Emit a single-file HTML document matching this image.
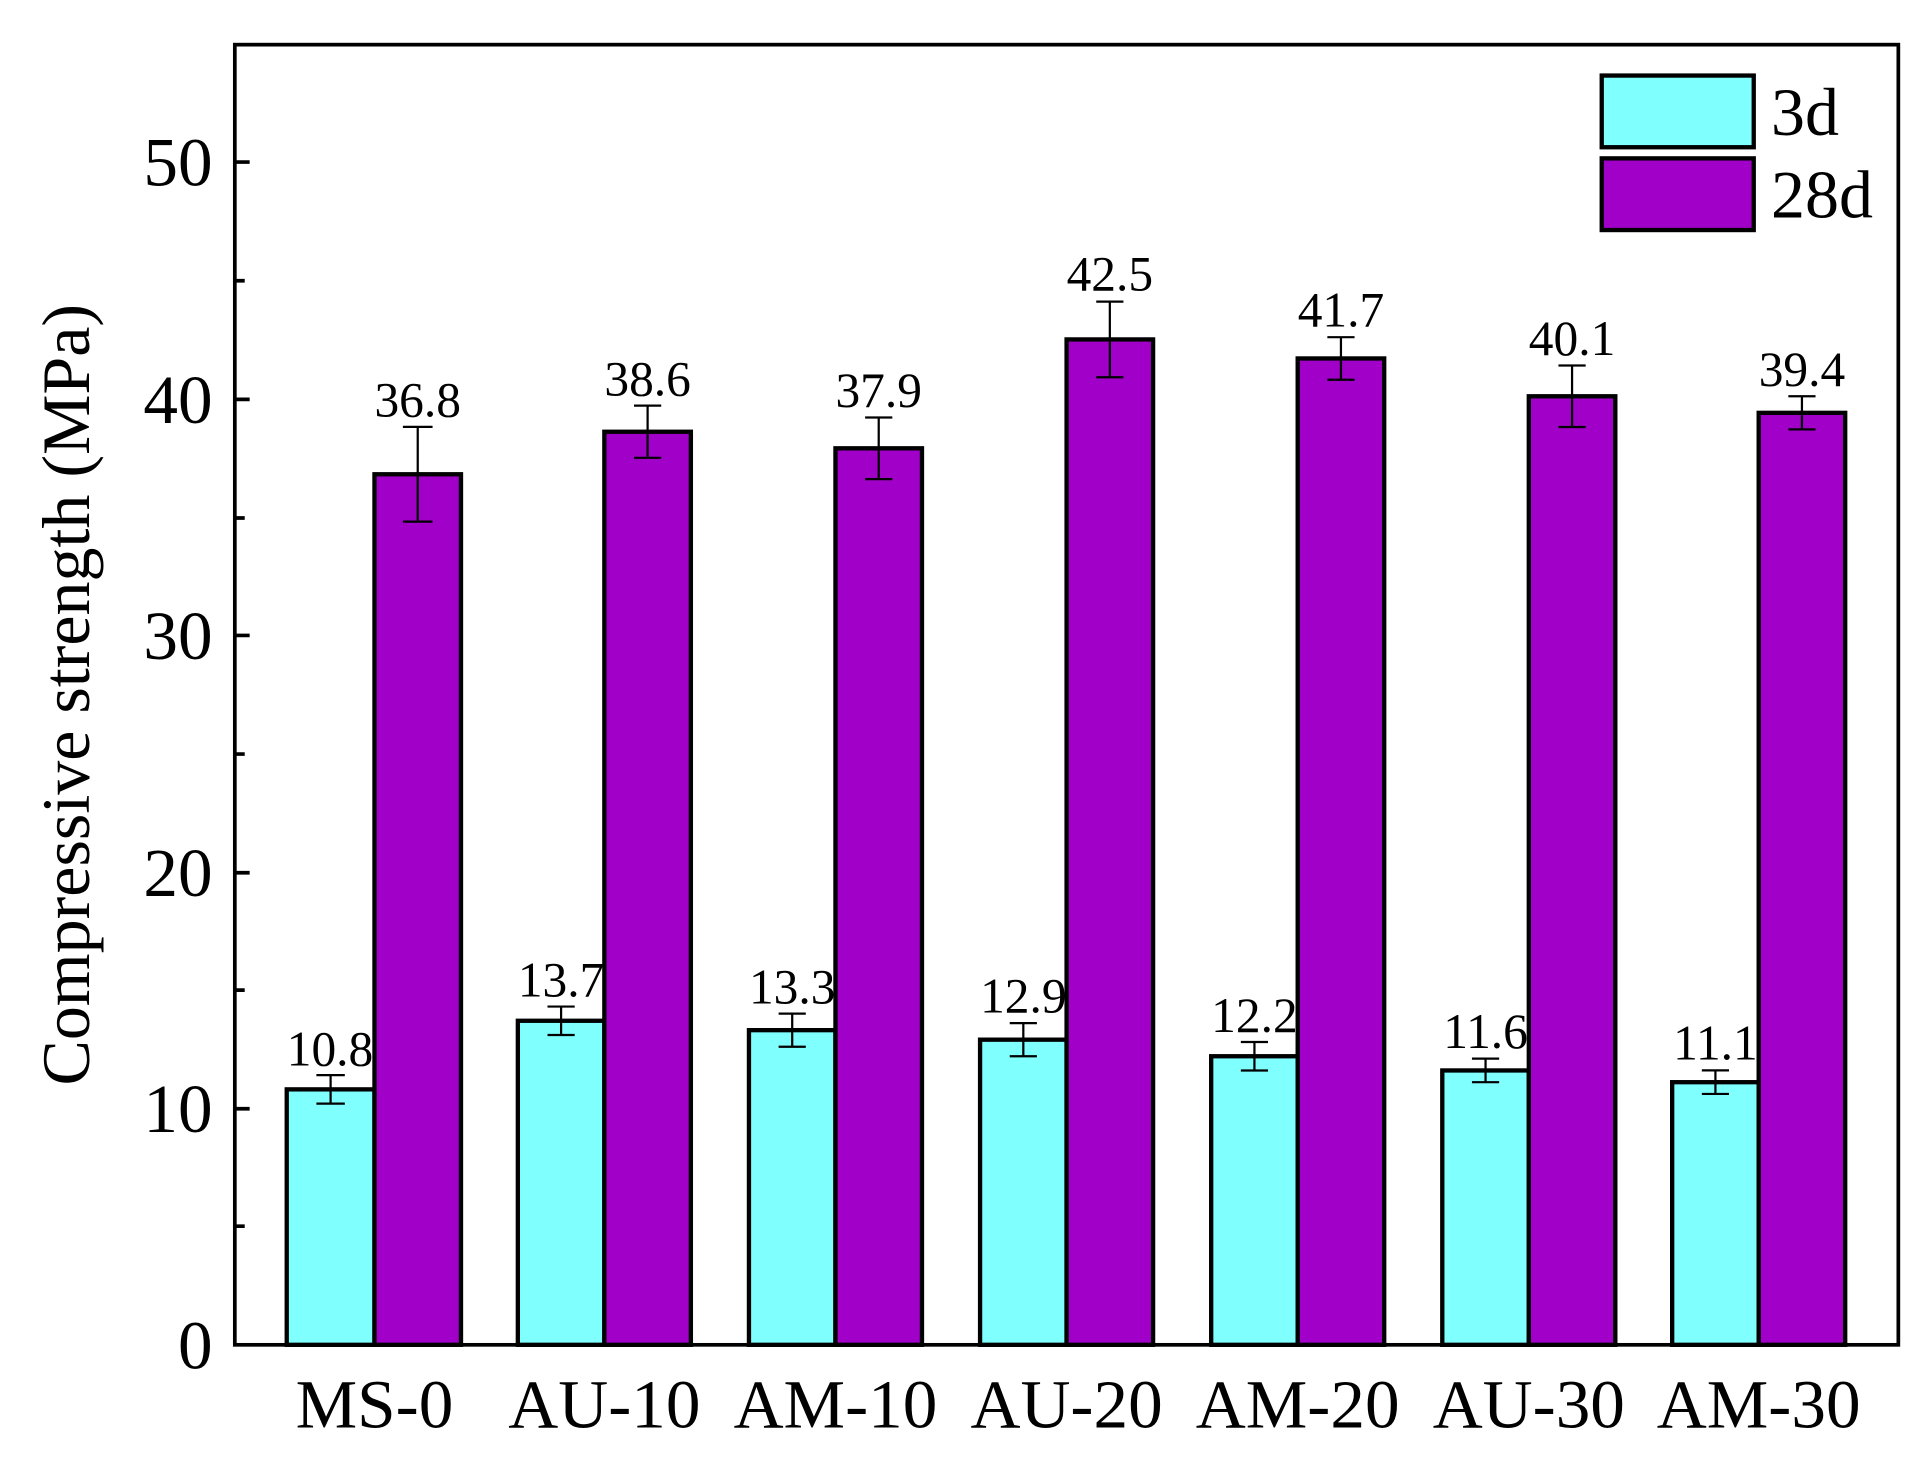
<!DOCTYPE html>
<html><head><meta charset="utf-8"><style>html,body{margin:0;padding:0;background:#fff}svg{display:block}</style></head><body>
<svg width="1928" height="1476" viewBox="0 0 1560 1194" xmlns="http://www.w3.org/2000/svg" font-family="Liberation Serif, serif">
<rect width="1560" height="1194" fill="#fff"/>
<g stroke="#000" stroke-width="3.5">
<rect x="232" y="881.3" width="71" height="206.7" fill="#80FFFF"/><rect x="303" y="383.6" width="70" height="704.4" fill="#A000C8"/>
<rect x="419" y="825.8" width="70" height="262.2" fill="#80FFFF"/><rect x="489" y="349.2" width="70" height="738.8" fill="#A000C8"/>
<rect x="606" y="833.4" width="70" height="254.6" fill="#80FFFF"/><rect x="676" y="362.6" width="70" height="725.4" fill="#A000C8"/>
<rect x="793" y="841.1" width="70" height="246.9" fill="#80FFFF"/><rect x="863" y="274.5" width="70" height="813.5" fill="#A000C8"/>
<rect x="980" y="854.5" width="70" height="233.5" fill="#80FFFF"/><rect x="1050" y="289.9" width="70" height="798.1" fill="#A000C8"/>
<rect x="1167" y="866.0" width="70" height="222.0" fill="#80FFFF"/><rect x="1237" y="320.5" width="70" height="767.5" fill="#A000C8"/>
<rect x="1353" y="875.5" width="70" height="212.5" fill="#80FFFF"/><rect x="1423" y="333.9" width="70" height="754.1" fill="#A000C8"/>
</g>
<g stroke="#000" stroke-width="1.8" fill="none">
<path d="M267.5 869.8V892.8M256 869.8H279M256 892.8H279"/>
<path d="M338 345.3V421.9M326 345.3H350M326 421.9H350"/>
<path d="M454 814.3V837.3M443 814.3H465M443 837.3H465"/>
<path d="M524 328.1V370.3M513 328.1H535M513 370.3H535"/>
<path d="M641 820V846.8M630 820H652M630 846.8H652"/>
<path d="M711 337.7V387.5M700 337.7H722M700 387.5H722"/>
<path d="M828 827.7V854.5M817 827.7H839M817 854.5H839"/>
<path d="M898 243.9V305.1M887 243.9H909M887 305.1H909"/>
<path d="M1015 843V866M1004 843H1026M1004 866H1026"/>
<path d="M1085 272.7V307.1M1074 272.7H1096M1074 307.1H1096"/>
<path d="M1202 856.4V875.5M1191 856.4H1213M1191 875.5H1213"/>
<path d="M1272 295.6V345.4M1261 295.6H1283M1261 345.4H1283"/>
<path d="M1388 865.9V885M1377 865.9H1399M1377 885H1399"/>
<path d="M1458 320.5V347.3M1447 320.5H1469M1447 347.3H1469"/>
</g>
<rect x="190" y="36" width="1346" height="1052" fill="none" stroke="#000" stroke-width="3"/>
<g stroke="#000" stroke-width="3">
<path d="M190 897H202M190 706H202M190 514H202M190 323H202M190 131H202M190 992H198M190 801H198M190 610H198M190 419H198M190 227H198"/>
</g>
<g font-size="56" text-anchor="end" fill="#000">
<text x="172" y="1107">0</text><text x="172" y="916">10</text><text x="172" y="725">20</text><text x="172" y="533">30</text><text x="172" y="342">40</text><text x="172" y="150">50</text>
</g>
<g font-size="56" text-anchor="middle" fill="#000">
<text x="303" y="1155">MS-0</text><text x="489" y="1155">AU-10</text><text x="676" y="1155">AM-10</text><text x="863" y="1155">AU-20</text><text x="1050" y="1155">AM-20</text><text x="1237" y="1155">AU-30</text><text x="1423" y="1155">AM-30</text>
</g>
<text transform="translate(72 562) rotate(-90)" font-size="55" text-anchor="middle" fill="#000">Compressive strength (MPa)</text>
<g font-size="40" text-anchor="middle" fill="#000">
<text x="267" y="862">10.8</text><text x="338" y="337">36.8</text>
<text x="454" y="806">13.7</text><text x="524" y="320">38.6</text>
<text x="641" y="812">13.3</text><text x="711" y="329">37.9</text>
<text x="828" y="819">12.9</text><text x="898" y="235">42.5</text>
<text x="1015" y="835">12.2</text><text x="1085" y="264">41.7</text>
<text x="1202" y="848">11.6</text><text x="1272" y="287">40.1</text>
<text x="1388" y="857">11.1</text><text x="1458" y="312">39.4</text>
</g>
<rect x="1296" y="61" width="123" height="58" fill="#80FFFF" stroke="#000" stroke-width="3.5"/>
<rect x="1296" y="128" width="123" height="58" fill="#A000C8" stroke="#000" stroke-width="3.5"/>
<g font-size="55" fill="#000"><text x="1433" y="109">3d</text><text x="1433" y="176">28d</text></g>
</svg>
</body></html>
